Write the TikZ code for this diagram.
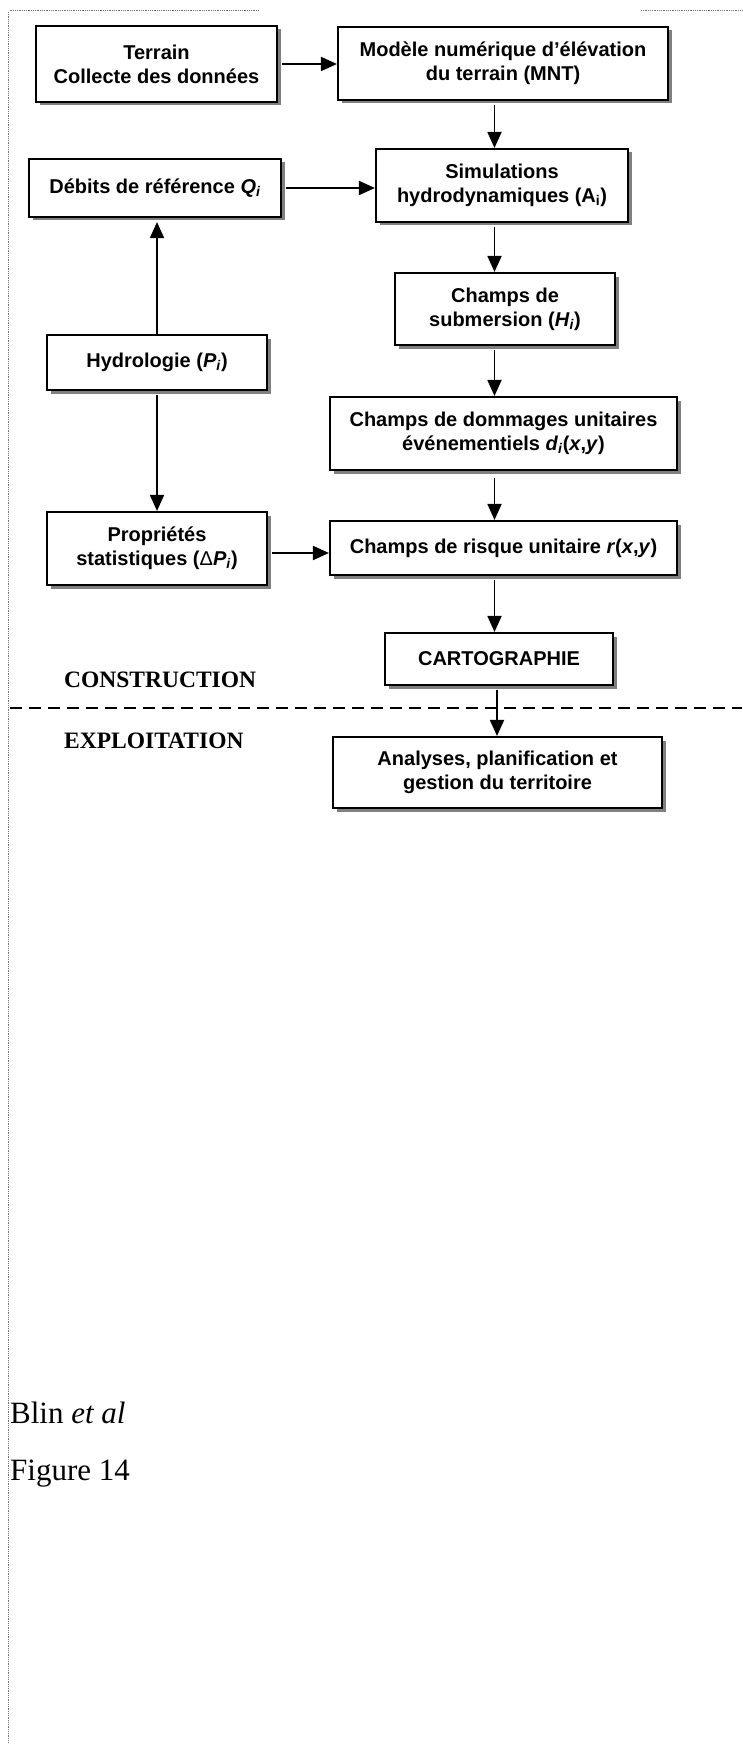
\documentclass[tikz,border=0pt]{standalone}
\usepackage{fontspec}
\setmainfont{Liberation Sans}
\newfontfamily\tnr{Liberation Serif}
\usetikzlibrary{arrows.meta,shadows}
\tikzset{
  box/.style={draw, line width=2.1pt, fill=white, align=center, inner sep=0pt,
    font=\bfseries\fontsize{20}{24}\selectfont,
    drop shadow={shadow xshift=3.5pt, shadow yshift=-3.5pt, fill=black!50, opacity=1}},
  arr/.style={line width=1.8pt, -{Triangle[length=16pt,width=14pt]}},
  border/.style={black!55, line width=0.8pt, densely dotted},
  phase/.style={font=\tnr\bfseries\fontsize{23.5}{28}\selectfont, anchor=base west, inner sep=0pt},
  caption/.style={font=\tnr\fontsize{31}{37}\selectfont, anchor=base west, inner sep=0pt},
  sep/.style={line width=2.7pt, dash pattern=on 12pt off 7pt}
}
\begin{document}
\begin{tikzpicture}[x=1pt,y=-1pt]
\useasboundingbox[fill=white] (0,0) rectangle (742,1744);
% page borders
\draw[border] (9.5,10.5) -- (258,10.5);
\draw[border] (641,10.5) -- (742,10.5);
\draw[border] (8.5,12) -- (8.5,1744);
% boxes
\node[box, minimum width=241pt, minimum height=76pt] (terrain) at (156.5,64) {Terrain\\Collecte des données};
\node[box, minimum width=330pt, minimum height=73pt] (mnt) at (503,63.5) {Modèle numérique d’élévation\\du terrain (MNT)};
\node[box, minimum width=252pt, minimum height=58pt] (debits) at (155,188) {Débits de référence \textit{Q}\textsubscript{\textit{i}}};
\node[box, minimum width=252pt, minimum height=73pt] (sim) at (502,185.5) {Simulations\\hydrodynamiques (A\textsubscript{i})};
\node[box, minimum width=220pt, minimum height=72pt] (champs) at (505,309) {Champs de\\submersion (\textit{H}\textsubscript{\textit{i}})};
\node[box, minimum width=220pt, minimum height=55pt] (hydro) at (157,362.5) {Hydrologie (\textit{P}\textsubscript{\textit{i}})};
\node[box, minimum width=347pt, minimum height=73pt] (dommages) at (503.5,433.5) {Champs de dommages unitaires\\événementiels \textit{d}\textsubscript{\textit{i}}(\textit{x},\textit{y})};
\node[box, minimum width=220pt, minimum height=73pt] (prop) at (157,548.5) {Propriétés\\statistiques ({\mdseries Δ}\textit{P}\textsubscript{\textit{i}})};
\node[box, minimum width=347pt, minimum height=54pt] (risque) at (503.5,548) {Champs de risque unitaire \textit{r}(\textit{x},\textit{y})};
\node[box, minimum width=228pt, minimum height=52pt] (carto) at (499,659) {CARTOGRAPHIE};
\node[box, minimum width=329pt, minimum height=71pt] (analyses) at (497.5,772.5) {Analyses, planification et\\gestion du territoire};
% phase labels
\node[phase] (construction) at (64,687) {CONSTRUCTION};
\node[phase] (exploitation) at (64,748) {EXPLOITATION};
\draw[sep] (9.5,708) -- (742,708);
% column coordinates
\coordinate (ax) at (494.5,0);
\coordinate (bx) at (497,0);
% connectors
\draw[arr] ([xshift=3.5pt]terrain.east) -- (terrain.east -| mnt.west);
\draw[arr] ([xshift=3.5pt]debits.east) -- (debits.east -| sim.west);
\draw[arr] ([xshift=3.5pt,yshift=-4.5pt]prop.east) -- ([yshift=-4.5pt]prop.east -| risque.west);
\draw[arr] ([yshift=-3.5pt]mnt.south -| ax) -- (sim.north -| ax);
\draw[arr] ([yshift=-3.5pt]sim.south -| ax) -- (champs.north -| ax);
\draw[arr] ([yshift=-3.5pt]champs.south -| ax) -- (dommages.north -| ax);
\draw[arr] ([yshift=-7pt]dommages.south -| ax) -- (risque.north -| ax);
\draw[arr] ([yshift=-3.5pt]risque.south -| ax) -- (carto.north -| ax);
\draw[arr] ([yshift=-3.5pt]carto.south -| bx) -- (analyses.north -| bx);
\draw[arr] (hydro.north) -- ([yshift=-4pt]debits.south -| hydro.north);
\draw[arr] ([yshift=-3.5pt]hydro.south) -- (prop.north -| hydro.south);
% caption
\node[caption] (blin) at (10,1423) {Blin \textit{et al}};
\node[caption] (fig) at (10,1480) {Figure 14};
\end{tikzpicture}
\end{document}
